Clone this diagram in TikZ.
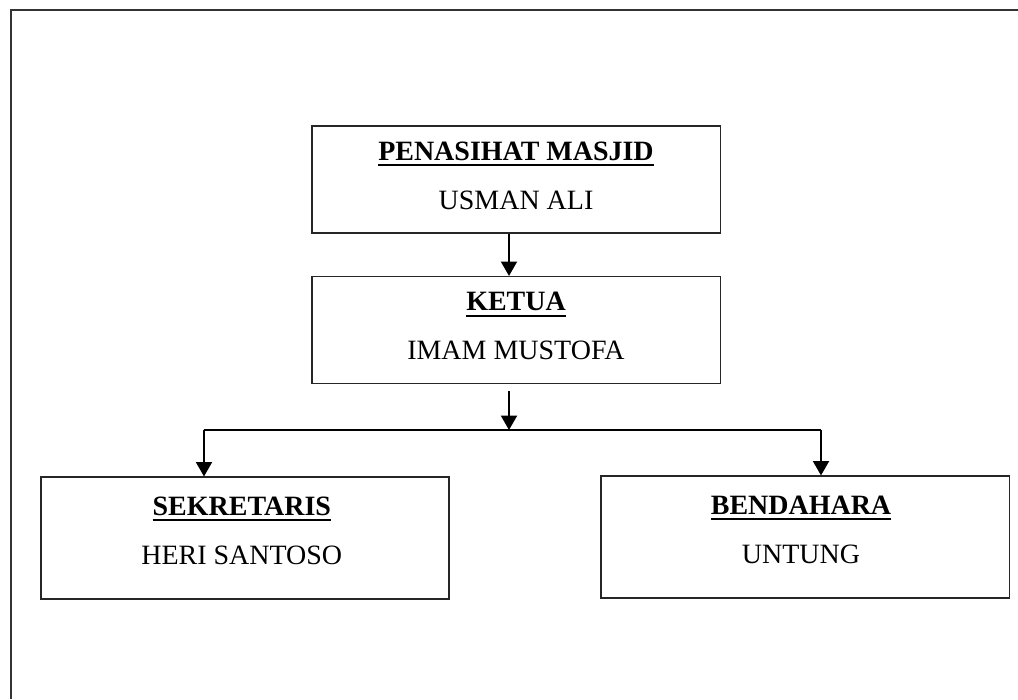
\documentclass[tikz,border=0pt]{standalone}
\usepackage{fontspec}
\setmainfont{Liberation Serif}
\usepackage{tikz}
\usetikzlibrary{arrows.meta,calc,positioning}
\newcommand{\posttitle}[1]{\setbox0\hbox{#1}\rlap{\usebox0}\rule[-4.2pt]{\wd0}{1.5pt}}
\tikzset{orgbox/.style={draw=black!85,line width=.8pt,minimum width=10.2cm,minimum height=2.675cm,inner sep=0pt}, lowbox/.style={orgbox,minimum height=3.05cm}, post/.style={font=\fontsize{19.9}{24}\selectfont\bfseries,anchor=base,inner sep=0pt}, holder/.style={font=\fontsize{19.9}{24}\selectfont,anchor=base,inner sep=0pt}, wire/.style={line width=1.4pt,black}, link/.style={wire,-{Triangle[width=.4cm,length=.36cm]}}, frameline/.style={draw=black!80,line width=1.2pt}}

\begin{document}
\begin{tikzpicture}[x=.025cm,y=-.025cm]
\useasboundingbox (0,0) rectangle (1018,699);
\draw[frameline] (1018,10.2) -- (11.3,10.2) -- (11.3,699);
\node[orgbox] (penasihat) at (516,179.5) {};
\node[orgbox] (ketua) at (516,330) {};
\node[lowbox] (sekretaris) at (245,538) {};
\node[lowbox] (bendahara) at (805,537) {};
\node[post] (penasihattitle) at ([yshift=-.875cm]penasihat.north) {\posttitle{PENASIHAT MASJID}};
\node[holder] (penasihatname) at ([yshift=-2.09cm]penasihat.north) {USMAN ALI};
\node[post] (ketuatitle) at ([yshift=-.875cm]ketua.north) {\posttitle{KETUA}};
\node[holder] (ketuaname) at ([yshift=-2.09cm]ketua.north) {IMAM MUSTOFA};
\node[post] (sekretaristitle) at ([xshift=-.08cm,yshift=-.975cm]sekretaris.north) {\posttitle{SEKRETARIS}};
\node[holder] (sekretarisname) at ([xshift=-.08cm,yshift=-2.21cm]sekretaris.north) {HERI SANTOSO};
\node[post] (bendaharatitle) at ([xshift=-.1cm,yshift=-.975cm]bendahara.north) {\posttitle{BENDAHARA}};
\node[holder] (bendaharaname) at ([xshift=-.1cm,yshift=-2.21cm]bendahara.north) {UNTUNG};
\coordinate (trunk) at (509,430);
\coordinate (ketuaout) at (509,391);
\coordinate (leftdrop) at (204,430);
\coordinate (rightdrop) at (821,430);
\draw[link] (penasihat.south -| trunk) -- (ketua.north -| trunk);
\draw[link] (ketuaout) -- (trunk);
\draw[wire] (leftdrop) -- (rightdrop);
\draw[link] (leftdrop) -- (sekretaris.north -| leftdrop);
\draw[link] (rightdrop) -- (bendahara.north -| rightdrop);
\end{tikzpicture}
\end{document}
